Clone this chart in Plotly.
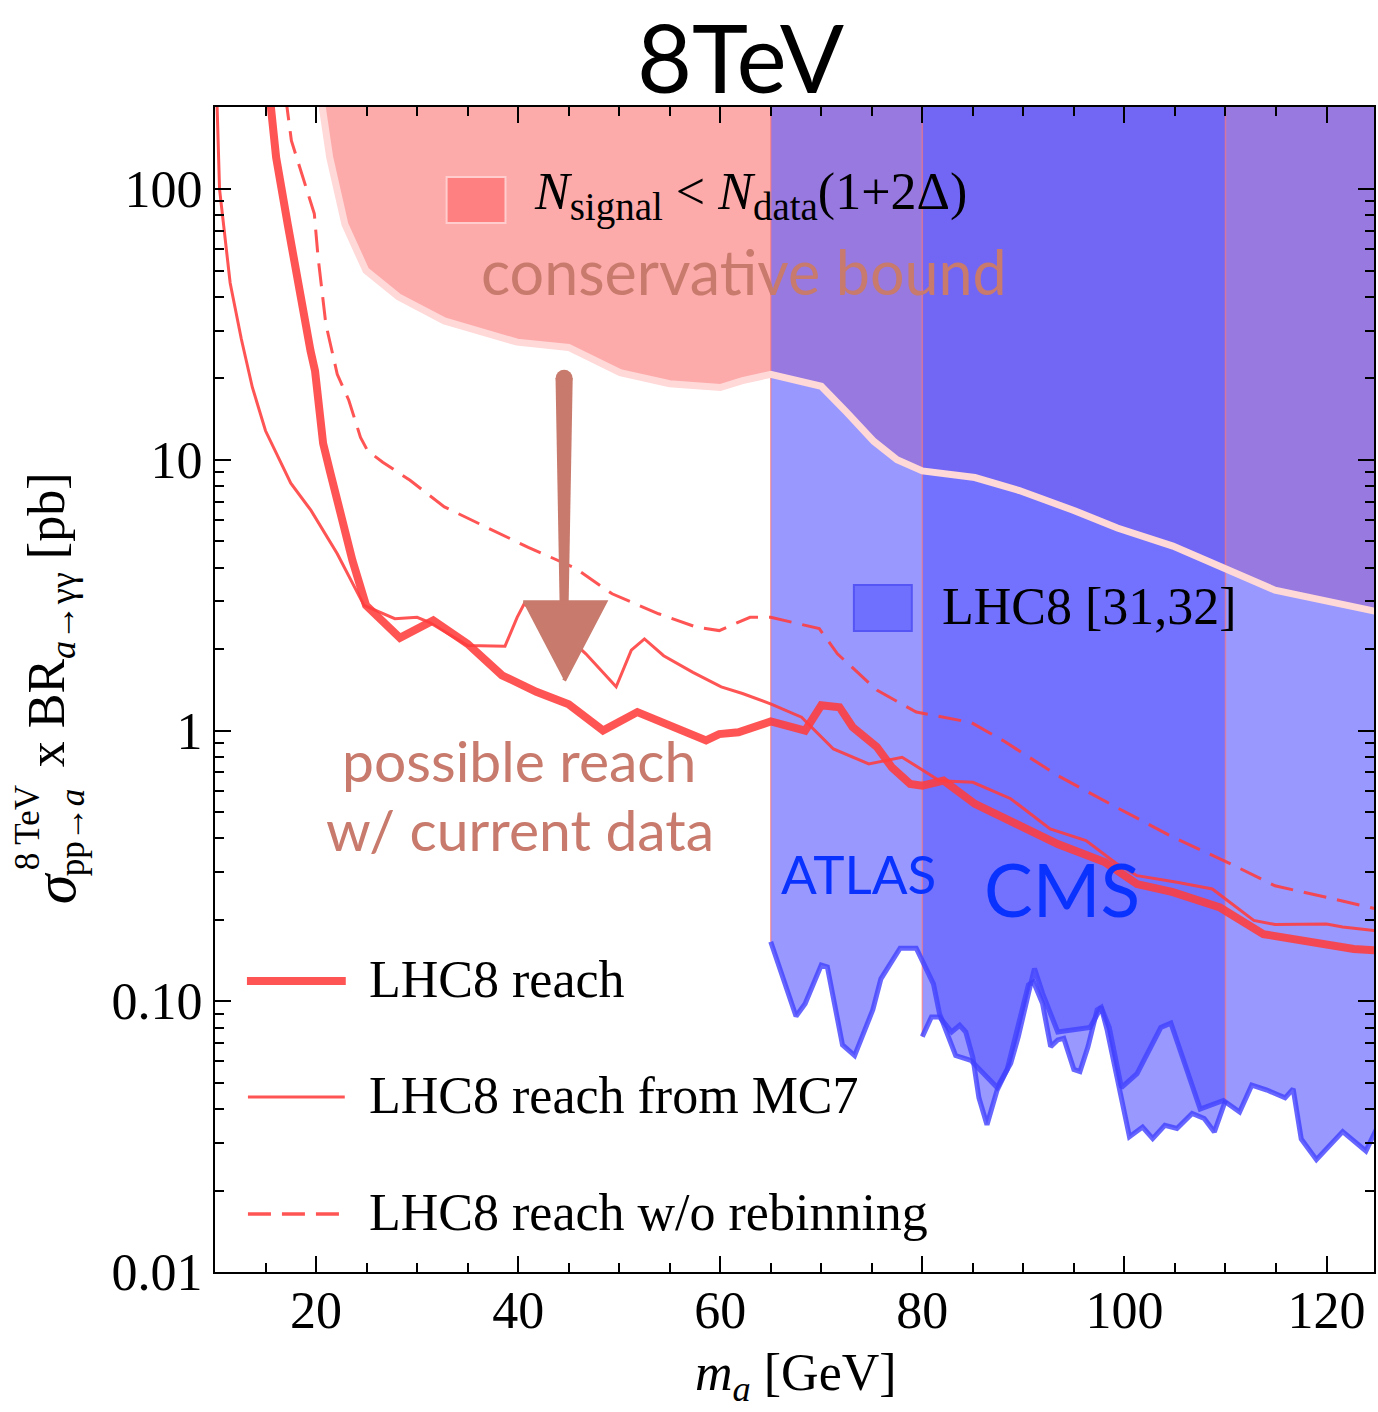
import math
import plotly.graph_objects as go

# ---------------- data ----------------
# LHC8 reach (thick line)
reach_x = [15.5, 16.05, 17.2, 18.3, 19.45, 19.9, 20.3, 20.7, 21.4, 22.5, 23.6, 24.95, 28.3, 31.6,
           35.0, 38.4, 41.8, 45.0, 48.4, 51.8, 55.0, 58.6, 59.9, 61.8, 65.0, 68.4, 70.0, 71.8,
           73.1, 75.5, 77.0, 78.8, 80.0, 82.1, 85.2, 89.1, 93.4, 98.1, 101.25, 104.8, 109.45,
           113.75, 116.5, 119.2, 122.7, 125.0]
reach_y = [206, 131, 74, 42, 25.3, 21.3, 15.0, 11.5, 9.0, 6.1, 4.25, 2.9, 2.2, 2.55,
           2.09, 1.6, 1.39, 1.25, 1.0, 1.17, 1.04, 0.92, 0.97, 0.985, 1.08, 1.0, 1.24, 1.22,
           1.03, 0.87, 0.73, 0.635, 0.626, 0.653, 0.536, 0.452, 0.381, 0.326, 0.271, 0.253, 0.222,
           0.177, 0.170, 0.165, 0.156, 0.154]

# LHC8 reach from MC7 (thin line)
mc7_x = [10.2, 10.45, 11.5, 12.6, 13.7, 15.0, 17.5, 19.5, 22.1, 24.75, 27.8, 30.0, 31.2, 35.0,
         38.7, 39.9, 40.6, 43.0, 45.0, 46.7, 49.7, 51.2, 52.5, 54.4, 57.3, 60.1, 62.2, 65.1,
         68.05, 71.2, 74.7, 78.0, 81.7, 85.0, 88.75, 92.65, 96.2, 99.3, 101.25, 105.2, 108.7,
         112.8, 114.9, 120.0, 121.6, 125.0]
mc7_y = [206, 100, 45, 28, 18.5, 12.8, 8.2, 6.5, 4.5, 2.9, 2.59, 2.62, 2.51, 2.06,
         2.05, 2.62, 2.94, 2.5, 2.2, 1.92, 1.45, 1.98, 2.18, 1.89, 1.64, 1.45, 1.37, 1.25,
         1.12, 0.855, 0.753, 0.797, 0.653, 0.644, 0.56, 0.433, 0.392, 0.321, 0.291, 0.275, 0.26,
         0.199, 0.192, 0.193, 0.188, 0.182]

# LHC8 reach without rebinning (dashed line)
norebin_x = [17.0, 17.56, 19.83, 20.2, 20.97, 22.1, 23.24, 24.4, 25.1, 26.6, 29.3, 32.7, 36.85,
             41.0, 45.55, 49.3, 53.9, 57.65, 59.9, 62.95, 65.0, 69.8, 71.6, 75.5, 79.4, 84.85,
             88.0, 93.4, 98.9, 104.8, 110.2, 114.9, 120.0, 125.0]
norebin_y = [218, 151, 81, 56, 31.7, 20.7, 16.6, 12.1, 10.8, 9.8, 8.4, 6.7, 5.64,
             4.75, 4.0, 3.2, 2.70, 2.41, 2.34, 2.62, 2.62, 2.38, 1.92, 1.41, 1.17, 1.07,
             0.918, 0.682, 0.528, 0.404, 0.326, 0.267, 0.242, 0.219]

# conservative bound N_signal < N_data (1 + 2 Delta)
bound_x = [20.5, 21.35, 22.86, 24.94, 28.15, 32.7, 39.9, 45.0, 50.1, 55.0, 60.0, 62.2, 65.0,
           70.0, 72.5, 75.2, 77.5, 80.0, 85.2, 89.6, 95.0, 99.3, 104.8, 109.8, 114.9, 125.0]
bound_y = [215, 131, 74, 50, 40, 32.6, 27.2, 26.0, 21.0, 19.1, 18.5, 19.6, 20.7,
           18.7, 15.0, 11.7, 10.0, 9.1, 8.6, 7.7, 6.5, 5.6, 4.8, 4.0, 3.3, 2.75]

# ATLAS 8 TeV diphoton limit
atlas_x = [65.0, 66.1, 67.5, 68.4, 70.0, 70.6, 72.1, 73.3, 75.1, 75.9, 77.8, 79.4, 81.1, 81.7,
           83.3, 84.8, 87.4, 88.75, 89.5, 90.7, 91.1, 91.9, 93.4, 96.6, 97.7, 98.5, 99.7,
           101.25, 103.6, 104.6, 105.9, 107.5, 109.8, 111.4, 112.6, 114.1, 115.9, 116.7, 117.5,
           119.0, 121.6, 123.9, 125.0]
atlas_y = [0.166, 0.126, 0.088, 0.098, 0.136, 0.134, 0.069, 0.063, 0.093, 0.121, 0.157, 0.157,
           0.116, 0.090, 0.063, 0.0605, 0.048, 0.059, 0.074, 0.115, 0.132, 0.107, 0.077, 0.080,
           0.095, 0.080, 0.048, 0.054, 0.080, 0.083, 0.059, 0.040, 0.043, 0.039, 0.049, 0.047,
           0.044, 0.0475, 0.031, 0.026, 0.033, 0.028, 0.034]

# CMS 8 TeV low-mass diphoton limit
cms_x = [80.0, 80.9, 81.7, 82.9, 83.7, 84.3, 85.0, 85.6, 86.4, 87.4, 88.4, 89.5, 90.5, 91.0,
         91.9, 92.7, 93.4, 94.0, 95.0, 95.6, 96.4, 97.3, 97.7, 98.3, 99.3, 100.5, 101.8, 102.8,
         104.0, 105.2, 106.7, 107.9, 108.9, 110.0]
cms_y = [0.074, 0.0875, 0.0875, 0.077, 0.0815, 0.077, 0.062, 0.044, 0.035, 0.047, 0.056, 0.080,
         0.115, 0.118, 0.098, 0.068, 0.072, 0.073, 0.056, 0.055, 0.068, 0.093, 0.095, 0.078,
         0.0525, 0.0316, 0.0343, 0.0311, 0.0348, 0.0339, 0.0385, 0.0369, 0.0329, 0.043]

# arrow "possible reach"
arrow_x = 44.55
arrow_top = 20.0
arrow_base = 2.98
arrow_tip = 1.53
arrow_half_w_top = 0.85
arrow_half_w_low = 0.45
arrow_head_half = 4.05

# axes
x_range = [10, 124.7]
y_range = [0.01, 201]
x_ticks = [20, 40, 60, 80, 100, 120]
y_ticks = [0.01, 0.1, 1, 10, 100]
y_ticktext = ["0.01", "0.10", "1", "10", "100"]
y_minor = [k * 10.0 ** d for d in range(-2, 3) for k in range(2, 10)]

# ---------------- styling ----------------
W, H = 1378, 1412
L, R, T, B = 215, 1376, 107, 1272
Y_TOP = 1000.0

RED = "rgba(255,60,60,0.88)"
PINK_FILL = "rgb(253,170,170)"
PINK_EDGE = "rgb(255,216,216)"
BLUE_FILL = "rgba(92,92,255,0.63)"
BLUE_LINE = "rgba(65,65,255,0.8)"
BROWN = "rgb(200,122,108)"
SERIF = "Liberation Serif"
SANS = "Lato"
FS = 52


def px(xp):
    return (xp - L) / (R - L)


def py(yp):
    return (B - yp) / (B - T)


fig = go.Figure()

# conservative-bound region
fig.add_trace(go.Scatter(x=bound_x + [bound_x[-1], bound_x[0]], y=bound_y + [Y_TOP, Y_TOP],
                         fill="toself", fillcolor=PINK_FILL, mode="none", showlegend=False))
# experimental exclusions
fig.add_trace(go.Scatter(x=atlas_x + [atlas_x[-1], atlas_x[0]], y=atlas_y + [Y_TOP, Y_TOP],
                         fill="toself", fillcolor=BLUE_FILL, mode="none", showlegend=False))
fig.add_trace(go.Scatter(x=cms_x + [cms_x[-1], cms_x[0]], y=cms_y + [Y_TOP, Y_TOP],
                         fill="toself", fillcolor=BLUE_FILL, mode="none", showlegend=False))
# region edges
for ex, ey in [(atlas_x[0], atlas_y[0]), (cms_x[0], cms_y[0]), (cms_x[-1], cms_y[-1])]:
    fig.add_trace(go.Scatter(x=[ex, ex], y=[ey, Y_TOP], mode="lines",
                             line=dict(color="rgba(255,120,120,0.65)", width=1.5),
                             showlegend=False))
# boundary of the conservative bound
fig.add_trace(go.Scatter(x=bound_x, y=bound_y, mode="lines",
                         line=dict(color=PINK_EDGE, width=7), showlegend=False))
# limit curves
fig.add_trace(go.Scatter(x=atlas_x, y=atlas_y, mode="lines",
                         line=dict(color=BLUE_LINE, width=5), showlegend=False))
fig.add_trace(go.Scatter(x=cms_x, y=cms_y, mode="lines",
                         line=dict(color=BLUE_LINE, width=5), showlegend=False))
# reach curves
fig.add_trace(go.Scatter(x=norebin_x, y=norebin_y, mode="lines",
                         line=dict(color=RED, width=3, dash="23px,11px"), showlegend=False))
fig.add_trace(go.Scatter(x=mc7_x, y=mc7_y, mode="lines",
                         line=dict(color=RED, width=3), showlegend=False))
fig.add_trace(go.Scatter(x=reach_x, y=reach_y, mode="lines",
                         line=dict(color=RED, width=8), showlegend=False))

# arrow
fig.add_trace(go.Scatter(
    x=[arrow_x - arrow_half_w_top, arrow_x + arrow_half_w_top,
       arrow_x + arrow_half_w_low, arrow_x - arrow_half_w_low],
    y=[arrow_top, arrow_top, arrow_base, arrow_base],
    fill="toself", fillcolor=BROWN, mode="none", showlegend=False))
fig.add_trace(go.Scatter(x=[arrow_x], y=[arrow_top], mode="markers",
                         marker=dict(color=BROWN, size=17), showlegend=False))
fig.add_trace(go.Scatter(
    x=[arrow_x - arrow_head_half, arrow_x + arrow_head_half, arrow_x],
    y=[arrow_base, arrow_base, arrow_tip],
    fill="toself", fillcolor=BROWN, mode="lines",
    line=dict(color=BROWN, width=4), showlegend=False))

# ---------------- legends (drawn in place) ----------------
shapes = [
    dict(type="rect", xref="paper", yref="paper", x0=px(447), x1=px(506), y0=py(223), y1=py(177),
         fillcolor="rgb(255,128,128)", line=dict(color="rgb(255,205,205)", width=2)),
    dict(type="rect", xref="paper", yref="paper", x0=px(855), x1=px(913), y0=py(631), y1=py(585),
         fillcolor="rgb(112,112,255)", line=dict(color="rgb(85,85,245)", width=2)),
    dict(type="line", xref="paper", yref="paper", x0=px(247), x1=px(346), y0=py(981), y1=py(981),
         line=dict(color=RED, width=8)),
    dict(type="line", xref="paper", yref="paper", x0=px(248), x1=px(345), y0=py(1097), y1=py(1097),
         line=dict(color=RED, width=3)),
    dict(type="line", xref="paper", yref="paper", x0=px(248), x1=px(340), y0=py(1214), y1=py(1214),
         line=dict(color=RED, width=3.5, dash="23px,11px")),
]

ann = []


def text(x, y, s, size, color="black", family=SERIF, xanchor="left", angle=0):
    ann.append(dict(x=px(x), y=py(y), xref="paper", yref="paper", text=s, showarrow=False,
                    xanchor=xanchor, yanchor="middle", textangle=angle,
                    font=dict(size=size, color=color, family=family)))


SUB = "<sub><span style='font-size:39px'>{}</span></sub>"

text(742, 56, "8TeV", 95, family=SANS, xanchor="center")
text(533, 196, "<i>N</i>" + SUB.format("signal") + " &lt; <i>N</i>" + SUB.format("data")
     + "(1+2Δ)", FS)
text(479, 271, "conservative bound", 61, color=BROWN, family=SANS)
text(941, 606, "LHC8 [31,32]", FS)
text(520, 760, "possible reach", 57, color=BROWN, family=SANS, xanchor="center")
text(521, 829, "w/ current data", 57, color=BROWN, family=SANS, xanchor="center")
text(780, 873, "ATLAS", 53, color="rgb(10,50,255)", family=SANS)
text(983, 889, "CMS", 73, color="rgb(10,50,255)", family=SANS)
text(367, 979, "LHC8 reach", FS)
text(367, 1095, "LHC8 reach from MC7", FS)
text(367, 1212, "LHC8 reach w/o rebinning", FS)
# axis titles
text(797, 1376, "<i>m</i><sub><i>a</i></sub> [GeV]", FS, xanchor="center")
text(50, 620, "x BR<sub><i>a</i>→γγ</sub> [pb]", FS, xanchor="center", angle=-90)
text(55, 888, "<i>σ</i>", 60, xanchor="center", angle=-90)
text(27, 828, "8 TeV", 35, xanchor="center", angle=-90)
text(73, 832, "pp→<i>a</i>", 35, xanchor="center", angle=-90)

axis_common = dict(showline=True, linecolor="black", linewidth=2, mirror="allticks",
                   ticks="inside", ticklen=16, tickwidth=1.5, tickcolor="black",
                   showgrid=False, zeroline=False,
                   tickfont=dict(family=SERIF, size=FS, color="black"))

fig.update_layout(
    width=W, height=H,
    margin=dict(l=L, r=W - R, t=T, b=H - B),
    paper_bgcolor="white", plot_bgcolor="white",
    showlegend=False,
    shapes=shapes, annotations=ann,
    xaxis=dict(range=x_range, tickmode="array", tickvals=x_ticks, ticklabelstandoff=-8,
               minor=dict(dtick=5, tick0=0, ticks="inside", ticklen=9, tickwidth=1.5,
                          tickcolor="black"),
               **axis_common),
    yaxis=dict(type="log", range=[math.log10(v) for v in y_range], tickmode="array",
               tickvals=y_ticks, ticktext=y_ticktext,
               minor=dict(tickmode="array", tickvals=y_minor, ticks="inside", ticklen=9,
                          tickwidth=1.5, tickcolor="black"),
               **axis_common),
)

fig.write_html("out.html")
